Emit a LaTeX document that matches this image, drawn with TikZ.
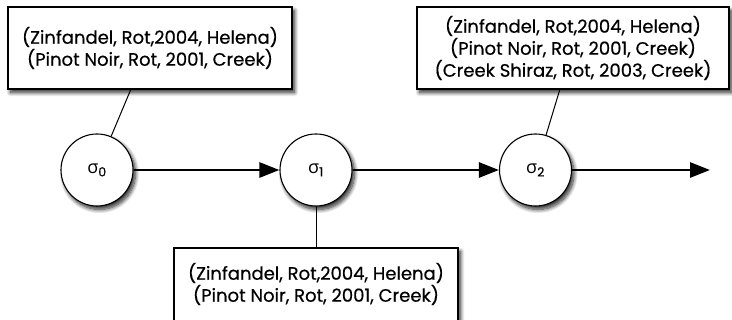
\documentclass[tikz,border=0pt]{standalone}
\usepackage{fontspec}
\setmainfont{Poppins}[FakeBold=0.5]
\newfontfamily\greekfont{Open Sans}
\usetikzlibrary{arrows.meta,shadows.blur}
\tikzset{
  softshadow/.style={blur shadow={shadow xshift=2.5pt, shadow yshift=-3.5pt,
    shadow blur steps=10, shadow blur radius=4pt, shadow opacity=85}},
  tupletext/.style={align=center, font=\fontsize{18}{22}\selectfont, inner sep=0pt},
  tuplebox/.style={draw, line width=1.1pt, fill=white, tupletext, softshadow},
  statenode/.style={draw, circle, line width=1.1pt, fill=white, minimum size=72pt,
    inner sep=0pt, font=\fontsize{18}{20}\selectfont, softshadow},
  trans/.style={line width=2.8pt, -{Triangle[length=20pt, width=15pt]}},
  link/.style={line width=1pt}
}
\newcommand{\sig}[1]{{\greekfont σ}\textsubscript{#1}}
\begin{document}
\begin{tikzpicture}[x=1pt, y=-1pt]
  \useasboundingbox (0,0) rectangle (732,320);
  \clip (0,0) rectangle (732,320);

  % states
  \node[statenode] (s0) at (97,170) {\sig{0}};
  \node[statenode] (s1) at (316,170) {\sig{1}};
  \node[statenode] (s2) at (535.5,170) {\sig{2}};
  \coordinate (out) at (710,170);

  % tuple sets attached to the states
  \node[tuplebox, minimum width=284pt, minimum height=82pt] (b0) at (150,48)
    {(Zinfandel, Rot,2004, Helena)\\(Pinot Noir, Rot, 2001, Creek)};
  \node[tuplebox, minimum width=312pt, minimum height=82pt] (b2) at (573,48)
    {(Zinfandel, Rot,2004, Helena)\\(Pinot Noir, Rot, 2001, Creek)\\(Creek Shiraz, Rot, 2003, Creek)};
  \node[tuplebox, minimum width=284pt, minimum height=84pt] (b1) at (316,290) {};
  \node[tupletext] (t1) at (316,284)
    {(Zinfandel, Rot,2004, Helena)\\(Pinot Noir, Rot, 2001, Creek)};

  \coordinate (a0) at (131,89);
  \coordinate (a2) at (560,89);

  % links from boxes to states
  \draw[link] (a0) -- (s0);
  \draw[link] (a2) -- (s2);
  \draw[link] (s1) -- (b1);

  % transitions
  \draw[trans] (s0) -- (s1);
  \draw[trans] (s1) -- (s2);
  \draw[trans] (s2) -- (out);
\end{tikzpicture}
\end{document}
